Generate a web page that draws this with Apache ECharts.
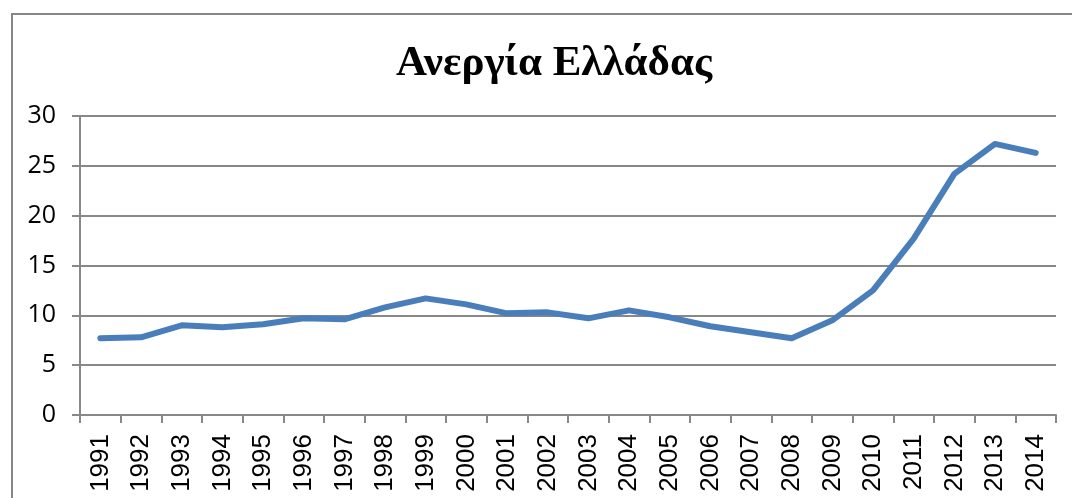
<!DOCTYPE html>
<html>
<head>
<meta charset="utf-8">
<script src="https://cdn.jsdelivr.net/npm/echarts@6/dist/echarts.min.js"></script>
<style>
html,body{margin:0;padding:0;background:#fff;}
#chart{width:1072px;height:498px;}
</style>
</head>
<body>
<div id="chart"></div>
<script>
// years on the x axis
var years = ['1991','1992','1993','1994','1995','1996','1997','1998','1999','2000','2001','2002',
    '2003','2004','2005','2006','2007','2008','2009','2010','2011','2012','2013','2014'];
// unemployment rate (%)
var unemployment = [7.7, 7.8, 9.0, 8.8, 9.1, 9.7, 9.6, 10.8, 11.7, 11.1, 10.2, 10.3,
    9.7, 10.5, 9.8, 8.9, 8.3, 7.7, 9.5, 12.5, 17.7, 24.2, 27.2, 26.3];
var yTicks = [0, 5, 10, 15, 20, 25, 30];

var gridColor = '#888888';

var option = {
    animation: false,
    backgroundColor: '#fff',
    title: {
        text: 'Ανεργία Ελλάδας',
        left: 549,
        textAlign: 'center',
        top: 37,
        textStyle: {
            fontFamily: '"Liberation Serif", "DejaVu Serif", serif',
            fontWeight: 'bold',
            fontSize: 43,
            color: '#000'
        }
    },
    graphic: [{
        type: 'rect',
        shape: {x: 12, y: 14, width: 1200, height: 600},
        style: {fill: 'none', stroke: '#878787', lineWidth: 2},
        silent: true
    }],
    grid: {left: 80, right: 16, top: 116, bottom: 83},
    xAxis: {
        type: 'category',
        data: years,
        boundaryGap: true,
        axisLine: {lineStyle: {color: gridColor, width: 2}},
        axisTick: {show: true, alignWithLabel: false, length: 8, lineStyle: {color: gridColor, width: 2}},
        axisLabel: {
            rotate: 90,
            interval: 0,
            margin: 19,
            fontFamily: '"Liberation Sans", Arial, sans-serif',
            fontSize: 26,
            color: '#000'
        }
    },
    yAxis: {
        type: 'value',
        min: yTicks[0],
        max: yTicks[yTicks.length - 1],
        interval: 5,
        axisLine: {show: true, lineStyle: {color: gridColor, width: 2}},
        axisTick: {show: true, length: 8, lineStyle: {color: gridColor, width: 2}},
        axisLabel: {
            margin: 24,
            fontFamily: '"Open Sans", "Noto Sans", sans-serif',
            fontSize: 25,
            color: '#000'
        },
        splitLine: {lineStyle: {color: gridColor, width: 2}}
    },
    series: [{
        type: 'line',
        data: unemployment,
        symbol: 'none',
        lineStyle: {color: '#4a7ebb', width: 6, cap: 'round', join: 'round'}
    }]
};

var chart = echarts.init(document.getElementById('chart'));
chart.setOption(option);
window.addEventListener('resize', function () {
    chart.resize();
});
</script>
</body>
</html>
